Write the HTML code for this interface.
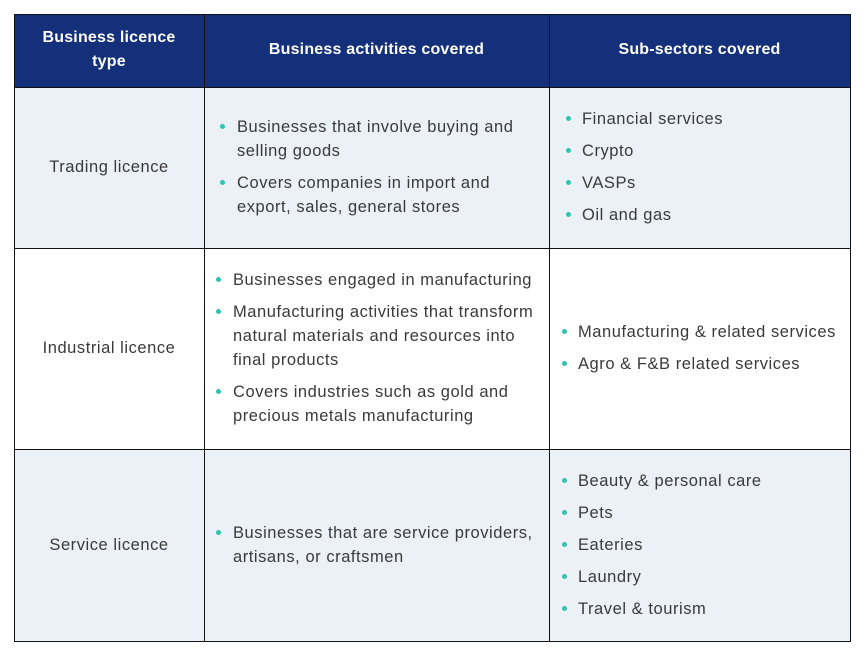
<!DOCTYPE html>
<html><head><style>
body{margin:0;width:865px;height:658px;background:#fff;font-family:"Liberation Sans",sans-serif;position:relative;overflow:hidden}
.b{position:absolute;box-sizing:border-box}
.h{background:#14307b}
.t{position:absolute;font-size:16.5px;letter-spacing:0.55px;color:#3a3a3a;line-height:24px;white-space:nowrap}
.w{color:#fff;font-weight:bold;font-size:16px;letter-spacing:0.2px;text-align:center}
.d{position:absolute;width:5px;height:5px;border-radius:50%;background:#2ec4ae}
.v{position:absolute;background:#111;width:1px}
.hl{position:absolute;background:#111;height:1px}
</style></head><body>
<div class="b h" style="left:14px;top:14px;width:836px;height:74px"></div>
<div class="b" style="left:14px;top:88px;width:836px;height:160px;background:#ebf1f6"></div>
<div class="b" style="left:14px;top:449px;width:836px;height:193px;background:#ebf1f6"></div>
<div class="t w" style="left:14px;width:190px;top:26px">Business licence<br>type</div>
<div class="t w" style="left:204px;width:345px;top:38px">Business activities covered</div>
<div class="t w" style="left:549px;width:301px;top:38px">Sub-sectors covered</div>
<div class="hl" style="left:14px;top:14px;width:837px"></div>
<div class="hl" style="left:14px;top:87px;width:837px"></div>
<div class="hl" style="left:14px;top:248px;width:837px"></div>
<div class="hl" style="left:14px;top:449px;width:837px"></div>
<div class="hl" style="left:14px;top:641px;width:837px"></div>
<div class="v" style="left:14px;top:14px;height:628px"></div>
<div class="v" style="left:204px;top:14px;height:628px"></div>
<div class="v" style="left:549px;top:14px;height:628px"></div>
<div class="v" style="left:850px;top:14px;height:628px"></div>

<div class="t" style="left:14px;width:190px;top:155px;text-align:center">Trading licence</div>
<div class="t" style="left:14px;width:190px;top:336px;text-align:center">Industrial licence</div>
<div class="t" style="left:14px;width:190px;top:533px;text-align:center">Service licence</div>

<div class="d" style="left:220px;top:124px"></div><div class="t" style="left:237px;top:115px">Businesses that involve buying and<br>selling goods</div>
<div class="d" style="left:220px;top:180px"></div><div class="t" style="left:237px;top:171px">Covers companies in import and<br>export, sales, general stores</div>

<div class="d" style="left:216px;top:277px"></div><div class="t" style="left:233px;top:268px">Businesses engaged in manufacturing</div>
<div class="d" style="left:216px;top:309px"></div><div class="t" style="left:233px;top:300px">Manufacturing activities that transform<br>natural materials and resources into<br>final products</div>
<div class="d" style="left:216px;top:389px"></div><div class="t" style="left:233px;top:380px">Covers industries such as gold and<br>precious metals manufacturing</div>

<div class="d" style="left:216px;top:530px"></div><div class="t" style="left:233px;top:521px">Businesses that are service providers,<br>artisans, or craftsmen</div>

<div class="d" style="left:566px;top:116px"></div><div class="t" style="left:582px;top:107px">Financial services</div>
<div class="d" style="left:566px;top:148px"></div><div class="t" style="left:582px;top:139px">Crypto</div>
<div class="d" style="left:566px;top:180px"></div><div class="t" style="left:582px;top:171px">VASPs</div>
<div class="d" style="left:566px;top:212px"></div><div class="t" style="left:582px;top:203px">Oil and gas</div>

<div class="d" style="left:562px;top:329px"></div><div class="t" style="left:578px;top:320px">Manufacturing &amp; related services</div>
<div class="d" style="left:562px;top:361px"></div><div class="t" style="left:578px;top:352px">Agro &amp; F&amp;B related services</div>

<div class="d" style="left:562px;top:478px"></div><div class="t" style="left:578px;top:469px">Beauty &amp; personal care</div>
<div class="d" style="left:562px;top:510px"></div><div class="t" style="left:578px;top:501px">Pets</div>
<div class="d" style="left:562px;top:542px"></div><div class="t" style="left:578px;top:533px">Eateries</div>
<div class="d" style="left:562px;top:574px"></div><div class="t" style="left:578px;top:565px">Laundry</div>
<div class="d" style="left:562px;top:606px"></div><div class="t" style="left:578px;top:597px">Travel &amp; tourism</div>
</body></html>
